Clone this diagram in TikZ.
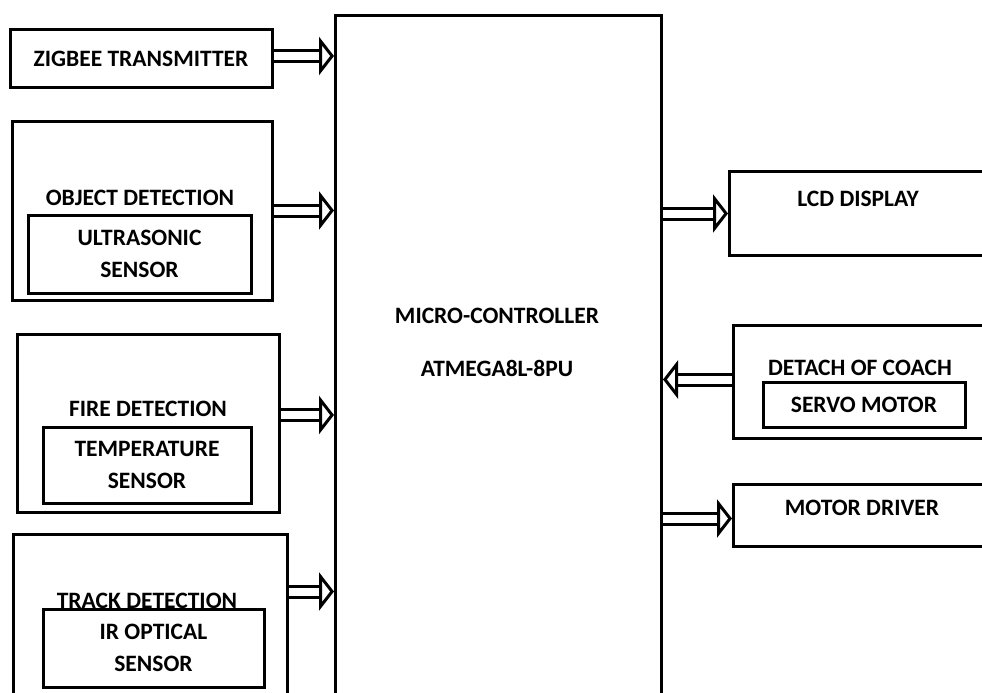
\documentclass[tikz,border=0pt]{standalone}
\usepackage{fontspec}
\setmainfont{Carlito}
\usetikzlibrary{arrows.meta,positioning,calc}

\begin{document}
\begin{tikzpicture}[x=1pt, y=-1pt, every node/.style={align=center, font=\fontsize{23.5}{32}\selectfont\bfseries}]
\tikzset{
  blk/.style={draw, line width=3pt, fill=white, inner sep=0pt},
  lbl/.style={inner sep=0pt},
  dblarr/.style={double=white, double distance=8pt, line width=3pt, -{Triangle[open, length=15pt, width=38pt]}}
}
\useasboundingbox (0,0) rectangle (982,693);
\clip (0,0) rectangle (982,693);
\fill[white] (0,0) rectangle (982,693);
% micro-controller
\node[blk, minimum width=326, minimum height=720, anchor=north west] (mc) at (334,14) {};
\node[lbl] (mcname) at (497,316) {MICRO-CONTROLLER};
\node[lbl] (mcpart) at (497,368) {ATMEGA8L-8PU};
% inputs
\node[blk, minimum width=262, minimum height=57] (zig) at (141,58.5) {ZIGBEE TRANSMITTER};
\node[blk, minimum width=260, minimum height=179] (obj) at (142,210.5) {};
\node[lbl] (objtitle) at (140,198) {OBJECT DETECTION};
\node[blk, minimum width=223, minimum height=78] (ultra) at (139.5,254) {ULTRASONIC\\SENSOR};
\node[blk, minimum width=262, minimum height=178] (fire) at (148,423) {};
\node[lbl] (firetitle) at (148,409) {FIRE DETECTION};
\node[blk, minimum width=208, minimum height=76] (temp) at (147,465) {TEMPERATURE\\SENSOR};
\node[blk, minimum width=274, minimum height=200, anchor=north west] (trk) at (12,533) {};
\node[lbl] (trktitle) at (147,601) {TRACK DETECTION};
\node[blk, minimum width=221, minimum height=78] (ir) at (153.5,648) {IR OPTICAL\\SENSOR};
% outputs
\node[blk, minimum width=267, minimum height=84, anchor=north west] (lcd) at (728,170) {};
\node[lbl] (lcdtxt) at (858,199) {LCD DISPLAY};
\node[blk, minimum width=263, minimum height=113, anchor=north west] (det) at (732,324) {};
\node[lbl] (dettitle) at (860,368) {DETACH OF COACH};
\node[blk, minimum width=202, minimum height=45] (servo) at (864,404.5) {SERVO MOTOR};
\node[blk, minimum width=263, minimum height=62, anchor=north west] (mot) at (732,483) {};
\node[lbl] (mottxt) at (862,508) {MOTOR DRIVER};
% links
\draw[dblarr] ([yshift=2.5pt]zig.east) -- ([yshift=2.5pt]zig.east -| mc.west);
\draw[dblarr] (obj.east) -- (obj.east -| mc.west);
\draw[dblarr] ([yshift=8pt]fire.east) -- ([yshift=8pt]fire.east -| mc.west);
\draw[dblarr] ([yshift=43pt]trk.east) -- ([yshift=43pt]trk.east -| mc.west);
\draw[dblarr] (mc.east |- lcd.west) -- (lcd.west);
\draw[dblarr] ([yshift=2.5pt]det.west) -- ([yshift=2.5pt]det.west -| mc.east);
\draw[dblarr] ([yshift=-3pt]mc.east |- mot.west) -- ([yshift=-3pt]mot.west);
\end{tikzpicture}
\end{document}
